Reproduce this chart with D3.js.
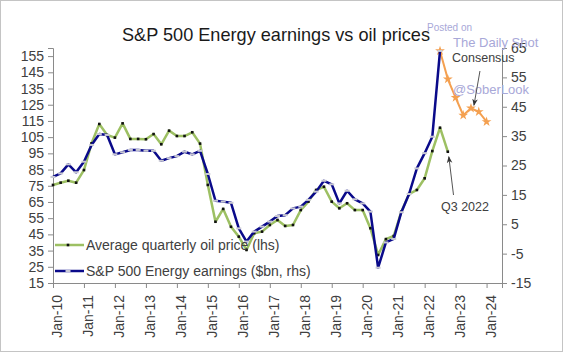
<!DOCTYPE html>
<html>
<head>
<meta charset="utf-8">
<script src="https://cdn.jsdelivr.net/npm/d3@7"></script>
<style>
  body { margin: 0; background: #fff; }
  svg { display: block; font-family: "Liberation Sans", Arial, sans-serif; }
</style>
</head>
<body>
<div id="chart"></div>
<script>
// quarterly series, first point plotted at Jan-10, one point every quarter
const firstQuarter = "2010-01-01";

const oilPrice = [75.5, 76.9, 78.1, 76.9, 84.7, 101.2, 113.1, 106.3, 104.7, 113.5,
    103.9, 103.9, 103.7, 106.9, 100.6, 109.0, 105.7, 105.7, 108.0, 101.0,
    75.5, 52.8, 60.7, 49.7, 43.6, 35.4, 45.7, 46.7, 50.8, 53.9,
    50.2, 50.8, 60.0, 65.2, 72.4, 74.4, 65.2, 61.1, 64.2, 60.0,
    60.0, 48.8, 32.3, 42.1, 44.0, 59.0, 69.9, 72.4, 79.6, 96.4,
    110.8, 96.0];

const energyEarnings = [21.1, 22.3, 25.4, 22.7, 26.3, 32.0, 35.7, 35.4, 28.8, 29.5,
    30.3, 30.3, 30.0, 30.0, 26.6, 27.5, 28.2, 29.7, 28.8, 30.0,
    22.1, 13.0, 12.7, 12.3, 3.6, -0.9, 2.5, 4.2, 5.9, 7.8,
    8.1, 10.4, 11.0, 13.3, 16.1, 19.8, 18.6, 12.1, 16.4, 13.5,
    12.1, 9.3, -9.8, -1.2, 0.0, 9.1, 15.3, 24.0, 29.2, 34.8,
    64.0];

// consensus starts at the last reported earnings quarter
const consensusStart = 50;
const consensus = [64.0, 54.4, 48.1, 42.1, 44.5, 43.3, 39.9];

const leftTicks = d3.range(15, 156, 10);
const rightTicks = d3.range(-15, 66, 10);
const yearTicks = d3.range(2010, 2025);

const W = 564, H = 353;
const plot = { left: 53, right: 502, top: 48, bottom: 283 };

const start = d3.timeParse("%Y-%m-%d")(firstQuarter);
const qDate = i => d3.timeMonth.offset(start, 3 * i);

const svg = d3.select("#chart").append("svg")
    .attr("width", W)
    .attr("height", H);

svg.append("rect")
    .attr("x", 0.5).attr("y", 0.5)
    .attr("width", W - 2).attr("height", H - 2)
    .attr("fill", "#fff")
    .attr("stroke", "#c4c4c4");

const x = d3.scaleTime()
    .domain([start, new Date(2024, 6, 1)])
    .range([plot.left, plot.right]);
const yL = d3.scaleLinear().domain([15, 160]).range([plot.bottom, plot.top]);
const yR = d3.scaleLinear().domain([-15, 65]).range([plot.bottom, plot.top]);

const axisColor = "#8a8a8a";
const textColor = "#404040";

function styleAxis(g) {
    g.selectAll(".domain").attr("stroke", axisColor);
    g.selectAll(".tick line").attr("stroke", axisColor);
    g.selectAll(".tick text").attr("fill", textColor).attr("font-size", 14);
}

const gLeft = svg.append("g")
    .attr("transform", `translate(${plot.left},0)`)
    .call(d3.axisLeft(yL).tickValues(leftTicks).tickFormat(d => String(d))
        .tickSizeOuter(0).tickSize(5).tickPadding(4));
styleAxis(gLeft);

const gRight = svg.append("g")
    .attr("transform", `translate(${plot.right},0)`)
    .call(d3.axisRight(yR).tickValues(rightTicks).tickFormat(d => String(d))
        .tickSizeOuter(0).tickSize(5).tickPadding(4));
styleAxis(gRight);

const gBottom = svg.append("g")
    .attr("transform", `translate(0,${plot.bottom})`)
    .call(d3.axisBottom(x)
        .tickValues(yearTicks.map(y => new Date(y, 0, 1)))
        .tickFormat(d3.timeFormat("%b-%y"))
        .tickSizeOuter(0).tickSize(5));
styleAxis(gBottom);
gBottom.selectAll(".tick text")
    .attr("text-anchor", "end")
    .attr("transform", "rotate(-90)")
    .attr("x", -12)
    .attr("y", 4)
    .attr("dy", "0.35em");

// lines
const oilData = oilPrice.map((v, i) => ({ date: qDate(i), value: v }));
const earnData = energyEarnings.map((v, i) => ({ date: qDate(i), value: v }));
const consData = consensus.map((v, i) => ({ date: qDate(consensusStart + i), value: v }));

const oilColor = "#9dc063";
const earnColor = "#0a0a8a";
const consColor = "#f4a050";

svg.append("path")
    .datum(oilData)
    .attr("fill", "none")
    .attr("stroke", oilColor)
    .attr("stroke-width", 2.5)
    .attr("stroke-linejoin", "round")
    .attr("d", d3.line().x(d => x(d.date)).y(d => yL(d.value)));

svg.append("g").selectAll("rect")
    .data(oilData)
    .join("rect")
    .attr("x", d => x(d.date) - 1.3)
    .attr("y", d => yL(d.value) - 1.3)
    .attr("width", 2.6)
    .attr("height", 2.6)
    .attr("fill", "#111");

svg.append("path")
    .datum(consData)
    .attr("fill", "none")
    .attr("stroke", consColor)
    .attr("stroke-width", 2)
    .attr("d", d3.line().x(d => x(d.date)).y(d => yR(d.value)));

svg.append("g").selectAll("path")
    .data(consData)
    .join("path")
    .attr("transform", d => `translate(${x(d.date)},${yR(d.value)})`)
    .attr("d", d3.symbol(d3.symbolStar, 30))
    .attr("fill", consColor);

svg.append("path")
    .datum(earnData)
    .attr("fill", "none")
    .attr("stroke", earnColor)
    .attr("stroke-width", 2.5)
    .attr("stroke-linejoin", "round")
    .attr("d", d3.line().x(d => x(d.date)).y(d => yR(d.value)));

svg.append("g").selectAll("rect")
    .data(earnData)
    .join("rect")
    .attr("x", d => x(d.date) - 2.5)
    .attr("y", d => yR(d.value) - 1)
    .attr("width", 5)
    .attr("height", 2)
    .attr("fill", "#c9c9d4");

// title
svg.append("text")
    .attr("x", 276)
    .attr("y", 41)
    .attr("text-anchor", "middle")
    .attr("font-size", 19)
    .attr("fill", "#1a1a1a")
    .attr("textLength", 308)
    .attr("lengthAdjust", "spacingAndGlyphs")
    .text("S&P 500 Energy earnings vs oil prices");

// watermark
const wm = svg.append("g").attr("fill", "#a8a8d8");
wm.append("text").attr("x", 427).attr("y", 31).attr("font-size", 10).text("Posted on");
wm.append("text").attr("x", 453).attr("y", 47).attr("font-size", 13).text("The Daily Shot");
wm.append("text").attr("x", 453).attr("y", 94).attr("font-size", 13).text("@SoberLook");

// annotations
svg.append("defs").append("marker")
    .attr("id", "arrow")
    .attr("viewBox", "0 0 10 10")
    .attr("refX", 9).attr("refY", 5)
    .attr("markerWidth", 7).attr("markerHeight", 7)
    .attr("orient", "auto")
    .append("path")
    .attr("d", "M0,1 L10,5 L0,9 L3,5 Z")
    .attr("fill", "#333");

svg.append("text")
    .attr("x", 452).attr("y", 62)
    .attr("font-size", 12.5)
    .attr("fill", textColor)
    .text("Consensus");
svg.append("line")
    .attr("x1", x(qDate(54)) + 9).attr("y1", 71)
    .attr("x2", x(qDate(54)) + 3).attr("y2", yR(consensus[4]) - 3)
    .attr("stroke", "#555").attr("stroke-width", 1)
    .attr("marker-end", "url(#arrow)");

svg.append("text")
    .attr("x", 441).attr("y", 211)
    .attr("font-size", 12.5)
    .attr("fill", textColor)
    .text("Q3 2022");
svg.append("line")
    .attr("x1", 453.5).attr("y1", 195)
    .attr("x2", x(qDate(51)) + 1).attr("y2", yL(oilPrice[51]) + 5)
    .attr("stroke", "#555").attr("stroke-width", 1)
    .attr("marker-end", "url(#arrow)");

// legend
const legend = [
    { label: "Average quarterly oil price (lhs)", color: oilColor, y: 245, dot: "#111", dw: 2.6 },
    { label: "S&P 500 Energy earnings ($bn, rhs)", color: earnColor, y: 271, dot: "#c9c9d4", dw: 5 }
];
const lg = svg.append("g");
legend.forEach(item => {
    lg.append("line")
        .attr("x1", 55).attr("x2", 84)
        .attr("y1", item.y).attr("y2", item.y)
        .attr("stroke", item.color).attr("stroke-width", 2.5);
    lg.append("rect")
        .attr("x", 68 - item.dw / 2).attr("y", item.y - (item.dw > 3 ? 1 : 1.3))
        .attr("width", item.dw).attr("height", item.dw > 3 ? 2 : 2.6)
        .attr("fill", item.dot);
    lg.append("text")
        .attr("x", 86).attr("y", item.y)
        .attr("dy", "0.35em")
        .attr("font-size", 14)
        .attr("fill", textColor)
        .text(item.label);
});
</script>
</body>
</html>
